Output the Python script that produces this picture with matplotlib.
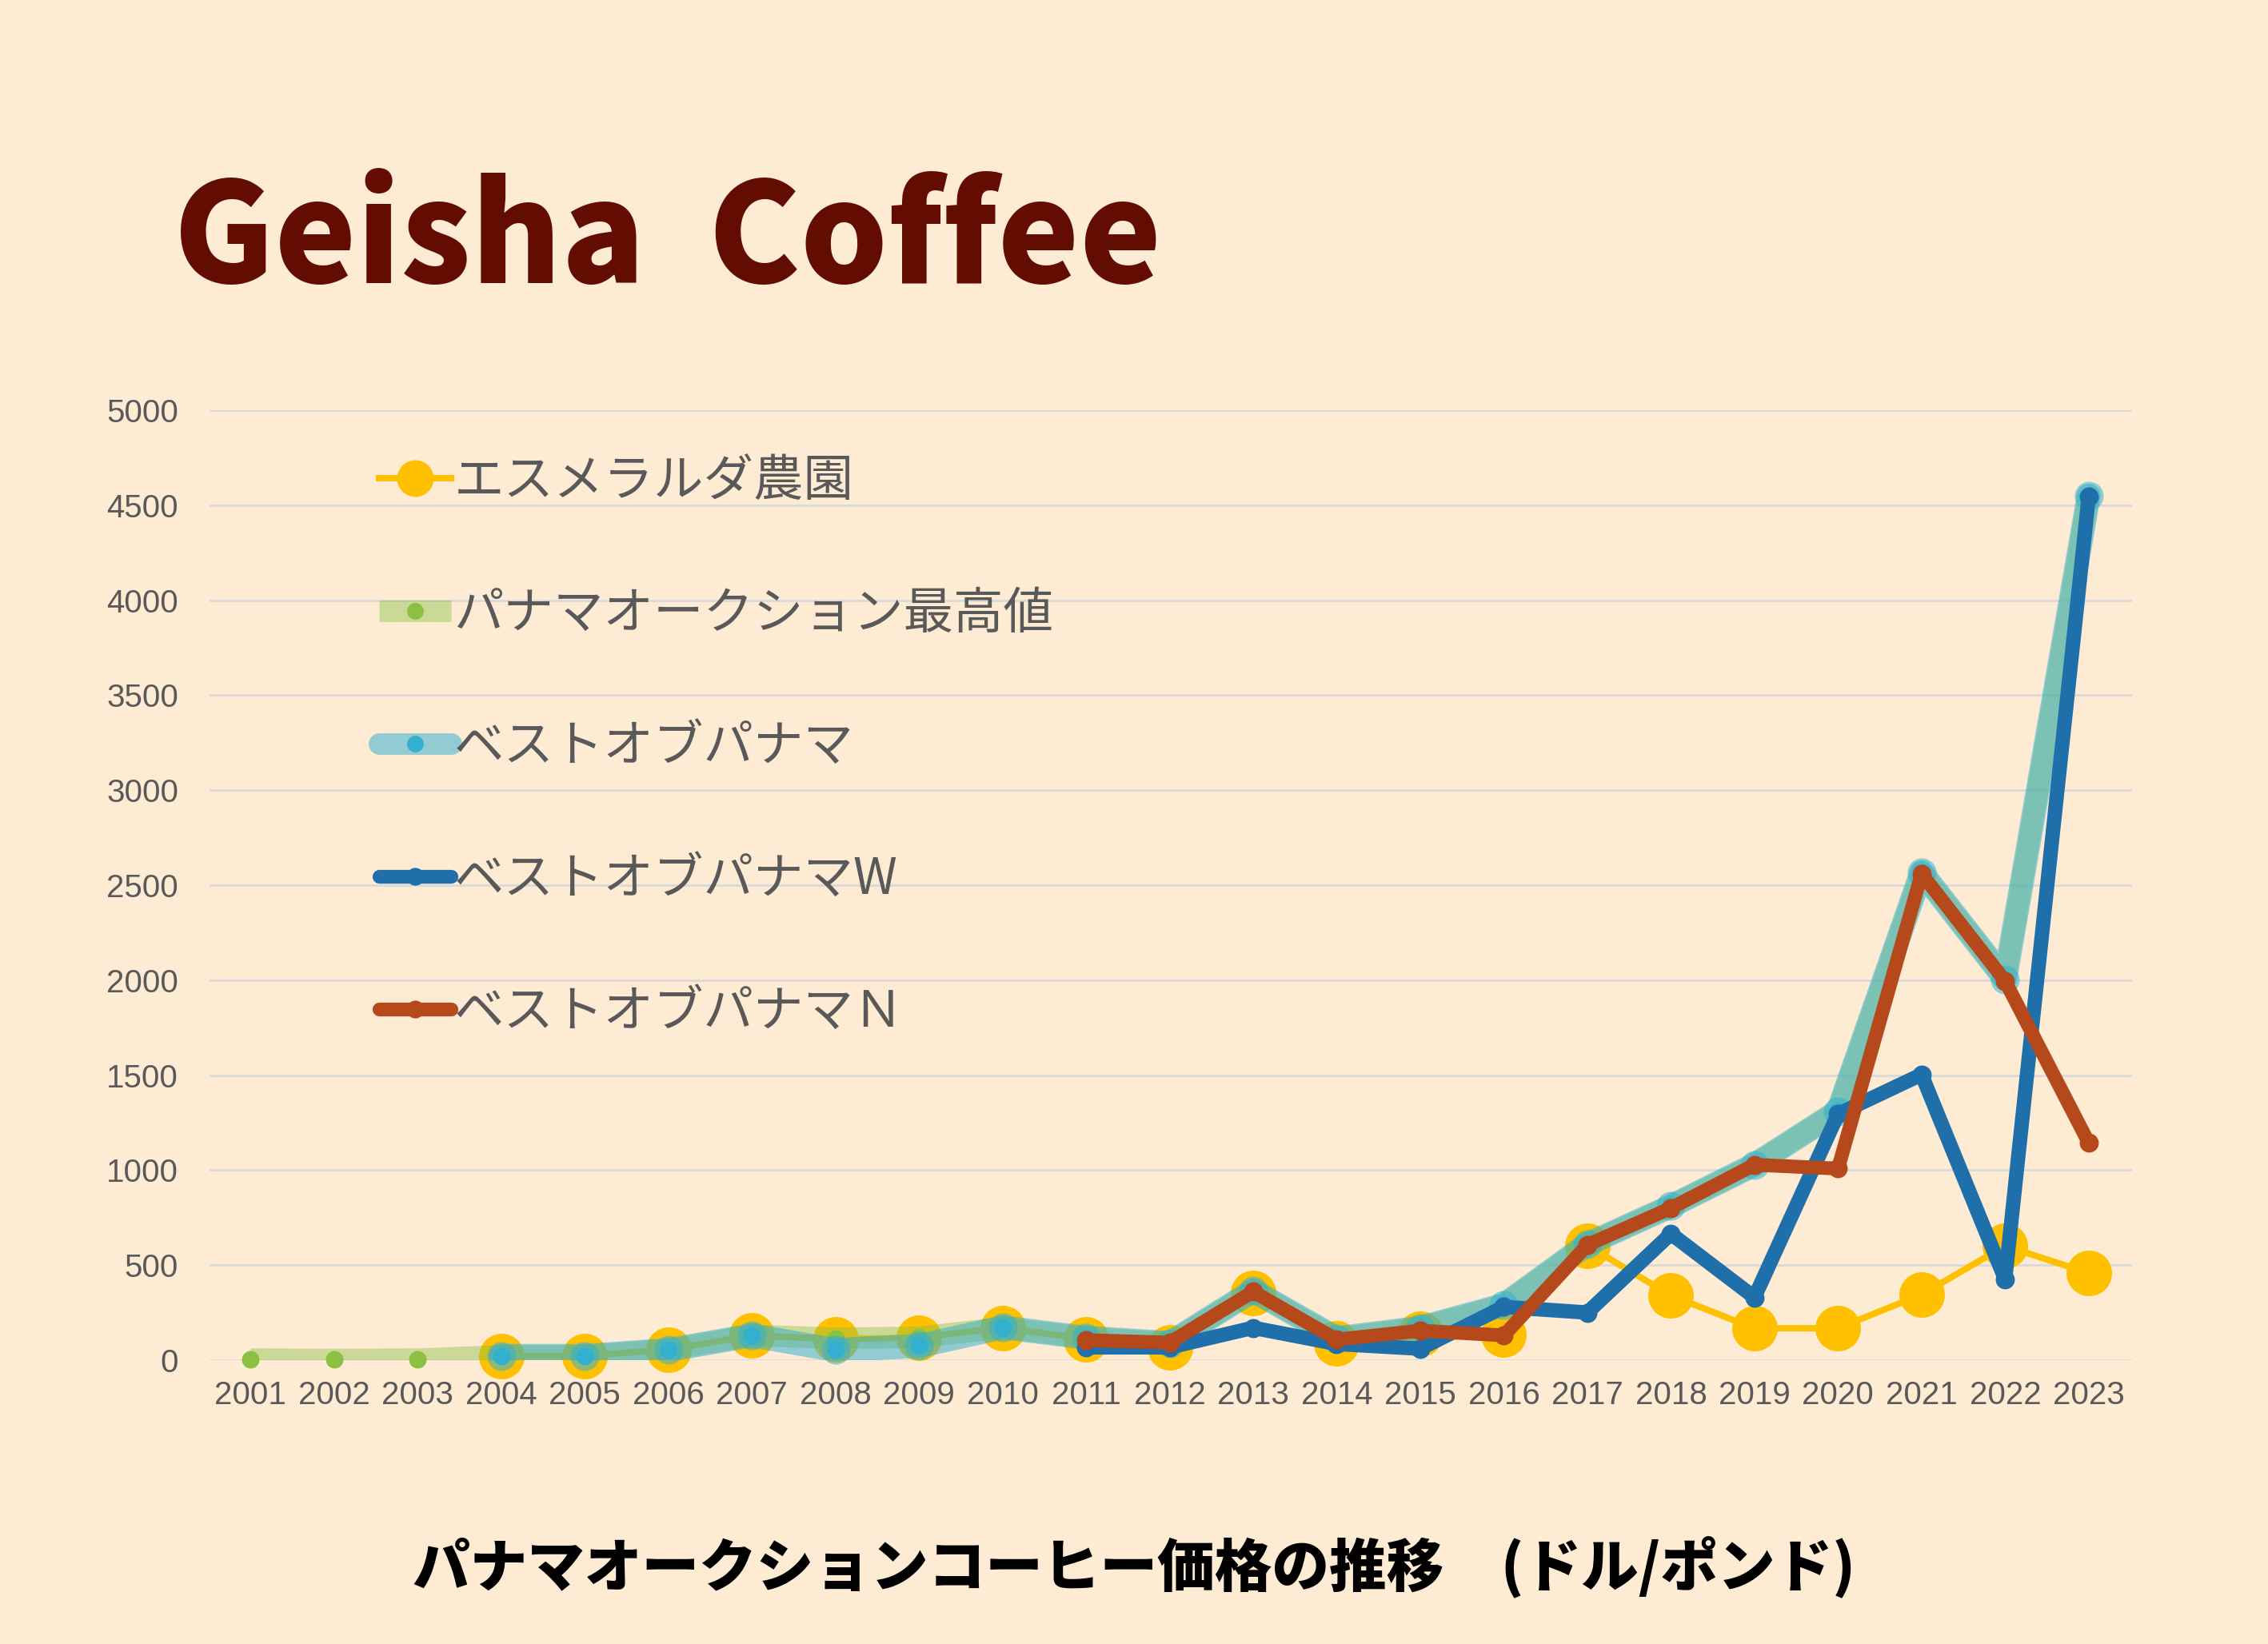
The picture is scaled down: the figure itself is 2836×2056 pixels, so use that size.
import matplotlib
matplotlib.use('Agg')
import matplotlib.pyplot as plt
from matplotlib.lines import Line2D
import numpy as np

# ---------------- data ----------------
years = [str(y) for y in range(2001, 2024)]
nan = np.nan
esmeralda = [nan, nan, nan, 22, 22, 55, 130, 110, 118, 170, 111, 68, 352, 88,
             137, 134, 603, 340, 167, 168, 345, 601, 458]
auction_max = [5, 3, 5, 22, 22, 55, 130, 115, 120, 170, 118, 90, 365, 115,
               170, 290, 610, 810, 1028, 1310, 2568, 2005, 4550]
best_of_panama = [nan, nan, nan, 22, 22, 53, 130, 53, 74, 172, 118, 90, 365, 115,
                  170, 290, 610, 810, 1028, 1310, 2568, 2005, 4550]
bop_washed = [nan] * 10 + [67, 67, 170, 85, 60, 280, 250, 665, 330, 1295, 1503, 425, 4545]
bop_natural = [nan] * 10 + [105, 92, 360, 108, 155, 130, 606, 800, 1028, 1008, 2560, 1995, 1144]

labels = ['エスメラルダ農園', 'パナマオークション最高値', 'ベストオブパナマ',
          'ベストオブパナマW', 'ベストオブパナマＮ']
yticks = list(range(0, 5001, 500))
title = 'Geisha  Coffee'
subtitle = 'パナマオークションコーヒー価格の推移\u3000(ドル/ポンド)'

# ---------------- style ----------------
BG = '#FEEBD4'
C_YEL = '#FFC000'
C_GRN = '#8BC043'
C_BLU = '#33B0D0'
C_W = '#1F6FAA'
C_N = '#B5491C'
TXT = '#595959'
CJK = ['Noto Sans CJK JP', 'DejaVu Sans']
NUM = ['Liberation Sans Narrow', 'Liberation Sans', 'DejaVu Sans']

plt.rcParams['font.family'] = CJK

fig = plt.figure(figsize=(14.18, 10.28), dpi=200, facecolor=BG)
ax = fig.add_axes([0.0924, 0.1727, 0.8477, 0.5778])
ax.set_facecolor(BG)

x = np.arange(len(years))

def arr(v):
    return np.array(v, dtype=float)

# Esmeralda (bottom)
ax.plot(x, arr(esmeralda), color=C_YEL, lw=2.9, zorder=2, solid_capstyle='round')
ax.plot(x, arr(esmeralda), ls='none', marker='o', ms=20.5, color=C_YEL,
        mec='none', zorder=2.1, clip_on=False)

# auction max (green band)
ax.plot(x, arr(auction_max), color=C_GRN, alpha=0.43, lw=9.7, zorder=3,
        solid_capstyle='butt', solid_joinstyle='round')
ax.plot(x, arr(auction_max), ls='none', marker='o', ms=7.9, color=C_GRN,
        mec='none', zorder=3.1, clip_on=False)

# best of panama (light blue band)
ax.plot(x, arr(best_of_panama), color=C_BLU, alpha=0.53, lw=10.8, zorder=4,
        solid_capstyle='round', solid_joinstyle='round')
ax.plot(x, arr(best_of_panama), ls='none', marker='o', ms=13, color=C_BLU,
        alpha=0.53, mec='none', zorder=4.1, clip_on=False)
ax.plot(x, arr(best_of_panama), ls='none', marker='o', ms=7.9, color=C_BLU,
        mec='none', zorder=4.2, clip_on=False)

# washed
ax.plot(x, arr(bop_washed), color=C_W, lw=6.5, zorder=5,
        solid_capstyle='round', solid_joinstyle='round')
ax.plot(x, arr(bop_washed), ls='none', marker='o', ms=8.6, color=C_W,
        mec='none', zorder=5.1, clip_on=False)

# natural
ax.plot(x, arr(bop_natural), color=C_N, lw=6.2, zorder=6,
        solid_capstyle='round', solid_joinstyle='round')
ax.plot(x, arr(bop_natural), ls='none', marker='o', ms=8.6, color=C_N,
        mec='none', zorder=6.1, clip_on=False)

# axes
ax.set_xlim(-0.49, len(years) - 1 + 0.52)
ax.set_ylim(0, 5000)
ax.set_xticks(x)
ax.set_xticklabels(years, family=NUM, fontsize=14.5, color=TXT)
ax.set_yticks(yticks)
ax.set_yticklabels([str(v) for v in yticks], family=NUM, fontsize=14.5, color=TXT)
ax.tick_params(axis='both', length=0)
ax.tick_params(axis='y', pad=14)
ax.tick_params(axis='x', pad=9)
for s in ax.spines.values():
    s.set_visible(False)
ax.grid(axis='y', color='#D9D9D9', lw=1.0, zorder=0)
ax.set_axisbelow(True)

# legend
h_yel = Line2D([], [], color=C_YEL, lw=2.9, marker='o', ms=16.5, mec='none')
h_grn = (Line2D([], [], color=C_GRN, alpha=0.43, lw=9.7, solid_capstyle='butt'),
         Line2D([], [], ls='none', marker='o', ms=7.5, color=C_GRN, mec='none'))
h_blu = (Line2D([], [], color=C_BLU, alpha=0.53, lw=9.7, solid_capstyle='round'),
         Line2D([], [], ls='none', marker='o', ms=7.5, color=C_BLU, mec='none'))
h_w = Line2D([], [], color=C_W, lw=6.2, marker='o', ms=8, mec='none',
             solid_capstyle='round')
h_n = Line2D([], [], color=C_N, lw=6.2, marker='o', ms=8, mec='none',
             solid_capstyle='round')
leg = ax.legend([h_yel, h_grn, h_blu, h_w, h_n], labels, loc='upper left',
                bbox_to_anchor=(0.088, 0.952), frameon=False, fontsize=22.5,
                handlelength=1.45, handletextpad=0.05, labelspacing=1.63,
                borderpad=0, borderaxespad=0, numpoints=1)
for t in leg.get_texts():
    t.set_color(TXT)
leg.set_zorder(10)

# titles
fig.text(0.0766, 0.853, title, fontsize=62, fontweight='black', color='#620C02',
         ha='left', va='center', family=CJK)
fig.text(0.5, 0.047, subtitle, fontsize=25.8, fontweight='black', color='black',
         ha='center', va='center', family=CJK)

fig.savefig('out.png', dpi=200, facecolor=BG)
